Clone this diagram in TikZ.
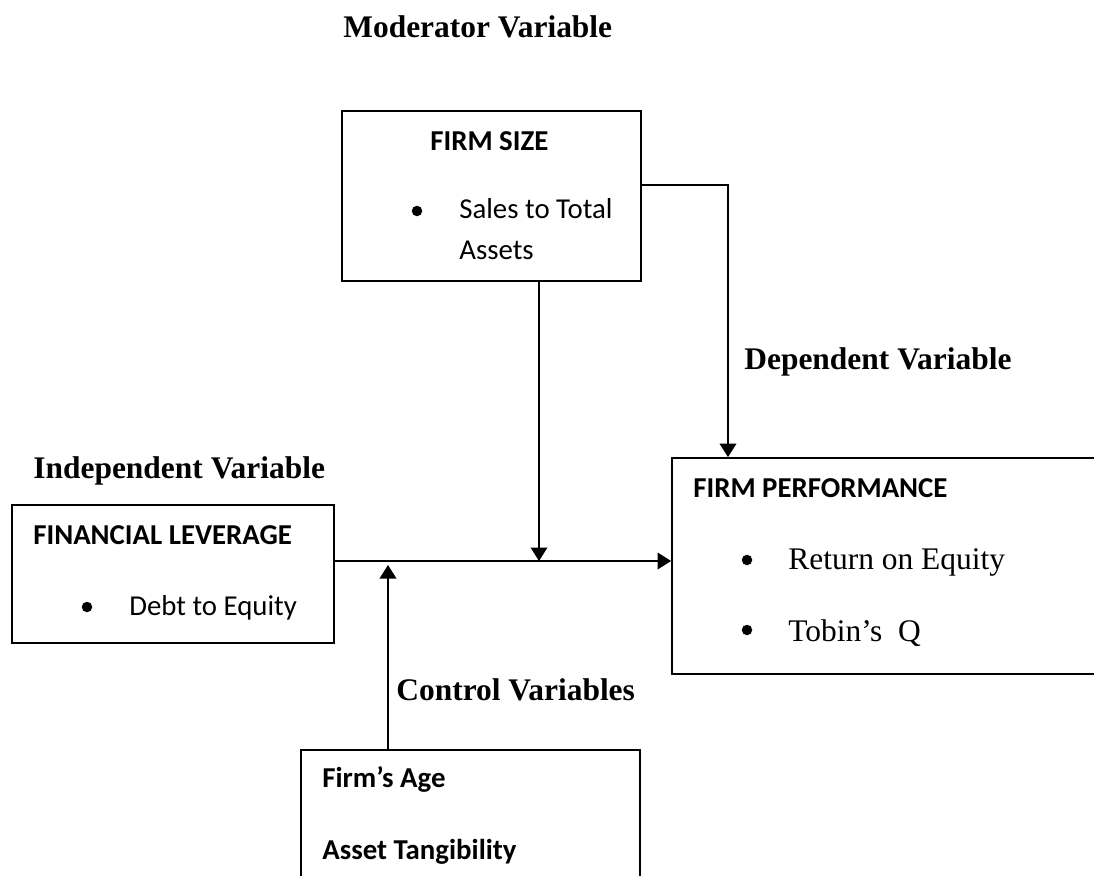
\documentclass[tikz,border=0pt]{standalone}
\usepackage{fontspec}
\setmainfont{Liberation Serif}
\newfontfamily\calibri{Carlito}
\usetikzlibrary{arrows.meta}

\tikzset{
  box/.style={draw, line width=0.35mm, rectangle, inner sep=0pt},
  varlabel/.style={anchor=base west, inner sep=0pt, font=\fontsize{17.9}{20}\selectfont\bfseries},
  boxhead/.style={anchor=base west, inner sep=0pt, font=\calibri\fontsize{16.4}{19}\selectfont\bfseries},
  boxitem/.style={anchor=base west, inner sep=0pt, font=\calibri\fontsize{16.4}{19}\selectfont},
  serifitem/.style={anchor=base west, inner sep=0pt, font=\fontsize{17.9}{20}\selectfont},
  link/.style={line width=0.4mm},
}

\begin{document}
\begin{tikzpicture}[x=0.2mm, y=-0.2mm, >={Triangle[length=2.7mm,width=3.3mm]}]
    \useasboundingbox (0,0) rectangle (1094,876);
    \clip (0,0) rectangle (1094,876);

    % Draw the four boxes
    \node[box, minimum width=59.8mm, minimum height=34mm] (size) at (491.5,196) {};
    \node[box, minimum width=64.4mm, minimum height=27.6mm] (lev) at (173,574) {};
    \node[box, minimum width=89.6mm, minimum height=43.2mm] (perf) at (896,566) {};
    \node[box, minimum width=67.8mm, minimum height=32mm] (ctrl) at (470.5,830) {};

    % Variable labels
    \node[varlabel] (modlab) at (343,38) {Moderator Variable};
    \node[varlabel] (deplab) at (744,369) {Dependent Variable};
    \node[varlabel] (indlab) at (33,478) {Independent Variable};
    \node[varlabel] (ctrllab) at (396,700) {Control Variables};

    % Box contents
    \node[boxhead] (sizehead) at (430,151) {FIRM SIZE};
    \node[boxitem] (sizeitem) at (459,219) {Sales to Total};
    \node[boxitem] (sizeitemb) at (459,260) {Assets};
    \node[boxhead] (levhead) at (33,544) {FINANCIAL LEVERAGE};
    \node[boxitem] (levitem) at (129,615) {Debt to Equity};
    \node[boxhead] (perfhead) at (693,497) {FIRM PERFORMANCE};
    \node[serifitem] (perfitem) at (788,569) {Return on Equity};
    \node[serifitem] (perfitemb) at (788,641) {Tobin’s\ \ Q};
    \node[boxhead] (age) at (322,787) {Firm’s Age};
    \node[boxhead] (tang) at (322,859) {Asset Tangibility};

    % Bullets
    \foreach \bx/\by in {417/211, 87/607, 747/560, 747/630}
        \fill (\bx,\by) circle[radius=1.05mm];

    % Junctions on the main path
    \coordinate (mod) at (539,561);
    \coordinate (ctl) at (388,565);
    \coordinate (bend) at (728,185);

    % Connectors
    \draw[link, ->] (lev.east |- mod) -- (perf.west |- mod);
    \draw[link, ->] (size.south -| mod) -- (mod);
    \draw[link, ->] (ctrl.north -| ctl) -- (ctl);
    \draw[link, ->] (size.east |- bend) -- (bend) -- (perf.north -| bend);
\end{tikzpicture}
\end{document}
